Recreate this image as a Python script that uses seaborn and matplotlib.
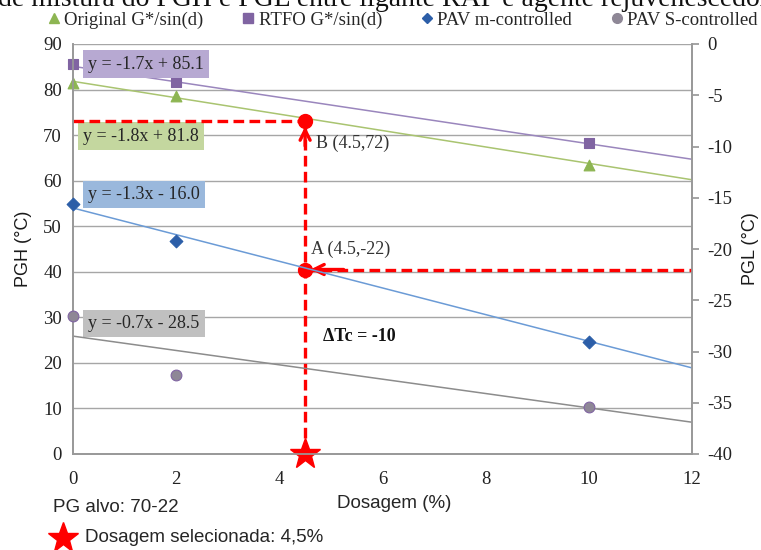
import matplotlib
matplotlib.use("Agg")
import matplotlib.pyplot as plt
import seaborn as sns
import numpy as np
import pandas as pd

# ---------------- data ----------------
dosage = [0, 2, 10]
original_g = [81.5, 78.5, 63.4]      # left axis, PGH
rtfo_g = [85.6, 81.6, 68.3]          # left axis, PGH
pav_m = [-15.6, -19.2, -29.1]        # right axis, PGL
pav_s = [-26.5, -32.3, -35.4]        # right axis, PGL

series_names = ["Original G*/sin(d)", "RTFO G*/sin(d)", "PAV m-controlled", "PAV S-controlled"]
slopes = [-1.8, -1.7, -1.3, -0.7]
intercepts = [81.8, 85.1, -16.0, -28.5]
eq_labels = ["y = -1.8x + 81.8", "y = -1.7x + 85.1", "y = -1.3x - 16.0", "y = -0.7x - 28.5"]

x_ticks = [0, 2, 4, 6, 8, 10, 12]
left_ticks = [0, 10, 20, 30, 40, 50, 60, 70, 80, 90]
right_ticks = [0, -5, -10, -15, -20, -25, -30, -35, -40]

sel_dose = 4.5
point_b = 73.0      # PGH at selected dosage
point_a = -22.0     # PGL at selected dosage

# ---------------- style ----------------
sns.set_theme(style="white")
serif = ["Liberation Serif", "DejaVu Serif"]
sans = ["Liberation Sans", "DejaVu Sans"]
plt.rcParams['font.family'] = serif

marker_cols = ["#8db552", "#8064a2", "#2c5ea8", "#8e8796"]
line_cols = ["#a9c470", "#9a86bd", "#6b9bd6", "#8c8c8c"]
box_cols = ["#c4d79f", "#b7a9d2", "#9ab8dc", "#c0c0c0"]
markers = ["^", "s", "D", "o"]

fig = plt.figure(figsize=(7.61, 5.50), dpi=100)
ax1 = fig.add_axes([73/761, 1-454/550, (692-73)/761, (454-44)/550])
ax2 = ax1.twinx()
ax2.patch.set_visible(False)

# trend lines
xl = np.array([0, 12])
df_lines = pd.DataFrame({
    "x": np.tile(xl, 4),
    "y": np.concatenate([s * xl + b for s, b in zip(slopes, intercepts)]),
    "series": np.repeat(series_names, 2),
})
for i, name in enumerate(series_names):
    ax = ax1 if i < 2 else ax2
    sub = df_lines[df_lines.series == name]
    sns.lineplot(data=sub, x="x", y="y", ax=ax, color=line_cols[i], lw=1.1, legend=False, zorder=2)

# points
vals = [original_g, rtfo_g, pav_m, pav_s]
df_pts = pd.DataFrame({
    "x": dosage * 4,
    "y": sum(vals, []),
    "series": np.repeat(series_names, 3),
})
sizes = [60, 55, 42, 60]
for i, name in enumerate(series_names):
    ax = ax1 if i < 2 else ax2
    sub = df_pts[df_pts.series == name]
    ec = "#8064a2" if i == 3 else marker_cols[i]
    sns.scatterplot(data=sub, x="x", y="y", ax=ax, marker=markers[i], color=marker_cols[i],
                    s=sizes[i], edgecolor=ec, linewidth=0.8, legend=False, zorder=5, clip_on=False)

# axes ranges and ticks
ax1.set_xlim(0, 12)
ax1.set_ylim(0, 90)
ax2.set_ylim(-40, 0)
ax1.set_xticks(x_ticks)
ax1.set_yticks(left_ticks)
ax2.set_yticks(right_ticks)
ax1.set_xticklabels([str(t) for t in x_ticks])
ax1.set_yticklabels([str(t) for t in left_ticks])
ax2.set_yticklabels([str(t) for t in right_ticks])
ax1.yaxis.grid(True, color="#a6a6a6", lw=1.0)
ax1.xaxis.grid(False)
for a in (ax1, ax2):
    for sp in a.spines.values():
        sp.set_color("#999999")
    a.spines["top"].set_visible(False)
ax1.tick_params(axis="x", direction="in", length=5, color="#999999", labelsize=13.5, pad=12)
ax1.tick_params(axis="y", length=0, labelsize=13.5, pad=8)
ax2.tick_params(axis="y", direction="out", length=5, color="#999999", labelsize=13.5, pad=6)
for lab in ax1.get_xticklabels() + ax1.get_yticklabels() + ax2.get_yticklabels():
    lab.set_color("#222222")

ax1.set_xlabel("")
ax1.set_ylabel("PGH (°C)", family=sans, fontsize=13, color="#1a1a1a", labelpad=8)
ax2.set_ylabel("PGL (°C)", family=sans, fontsize=13, color="#1a1a1a", labelpad=7)

# equation boxes
eq_pos = [(0.2, 69.8, 0), (0.3, 85.6, 1), (0.3, 57.0, 2), (0.3, 28.7, 3)]
for xe, ye, i in eq_pos:
    ax1.text(xe, ye, eq_labels[i], fontsize=13, va="center", ha="left", zorder=6,
             bbox=dict(boxstyle="square,pad=0.28", fc=box_cols[i], ec="none"))

# red construction lines
red = "#ff0000"
dash = (0, (3.2, 1.6))
b_left = point_b
a_left = (point_a + 40) * 90 / 40
ax1.plot([0, sel_dose], [b_left, b_left], color=red, lw=2.4, ls=dash, zorder=7)
ax1.plot([sel_dose, sel_dose], [0, b_left - 0.5], color=red, lw=2.4, ls=dash, zorder=7)
ax1.plot([sel_dose, 12], [a_left, a_left], color=red, lw=2.4, ls=dash, zorder=7)
ax1.annotate("", xy=(sel_dose, b_left - 0.5), xytext=(sel_dose, b_left - 6),
             arrowprops=dict(arrowstyle="->", color=red, lw=2.4, mutation_scale=18), zorder=8)
ax1.annotate("", xy=(sel_dose + 0.05, a_left), xytext=(sel_dose + 0.8, a_left),
             arrowprops=dict(arrowstyle="->", color=red, lw=2.4, mutation_scale=18), zorder=8)
ax1.plot([sel_dose], [b_left], "o", color=red, ms=10, zorder=9)
ax1.plot([sel_dose], [a_left], "o", color=red, ms=10, zorder=9)
ax1.plot([sel_dose], [0], marker="*", color=red, ms=23, clip_on=False, zorder=10, mec=red)

ax1.text(4.72, 68.3, "B (4.5,72)", fontsize=13, color="#333333", ha="left", va="center", zorder=9)
ax1.text(4.62, 45.0, "A (4.5,-22)", fontsize=13, color="#333333", ha="left", va="center", zorder=9)
ax1.text(4.85, 25.8, "ΔTc = -10", fontsize=13, fontweight="bold", color="#111111",
         ha="left", va="center", zorder=9)

# legend
handles = [plt.Line2D([], [], ls="none", marker=markers[i], color=marker_cols[i], ms=7 if i != 2 else 5.5)
           for i in range(4)]
fig.legend(handles, series_names, loc="center", bbox_to_anchor=(0.527, 1 - 20/550), ncol=4,
           frameon=False, fontsize=13.5, handletextpad=0.05, columnspacing=1.9, handlelength=1.0)

# title (cropped at top as in reference)
fig.text(-0.003, 1 - 6/550, "de mistura do PGH e PGL entre ligante RAP e agente rejuvenescedor",
         fontsize=20, ha="left", va="baseline", color="#111111")

# bottom texts
fig.text(394/761, 1 - 503/550, "Dosagem (%)", family=sans, fontsize=13.5, ha="center", va="center")
fig.text(53/761, 1 - 507/550, "PG alvo: 70-22", family=sans, fontsize=13.5, ha="left", va="center")
fig.text(85/761, 1 - 538/550, "Dosagem selecionada: 4,5%", family=sans, fontsize=13.5, ha="left", va="center")
fig.lines.append(plt.Line2D([63/761], [1 - 538/550], marker="*", color=red, ms=23,
                            transform=fig.transFigure, ls="none"))

fig.savefig("out.png", dpi=100)
